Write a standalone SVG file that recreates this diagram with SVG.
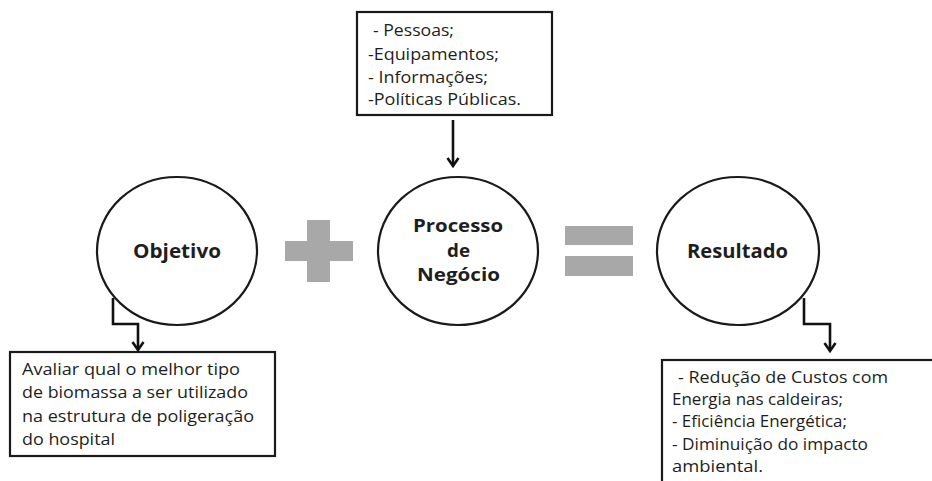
<svg xmlns="http://www.w3.org/2000/svg" width="932" height="481" viewBox="0 0 932 481">
  <defs>
    <marker id="arrow" markerWidth="14" markerHeight="14" refX="11" refY="7" orient="auto" markerUnits="userSpaceOnUse" viewBox="0 0 14 14">
      <polyline points="3,1.5 11,7 3,12.5" fill="none" stroke="#111" stroke-width="2.6" stroke-linejoin="miter"/>
    </marker>
  </defs>
  <style>
    .bg { fill: #ffffff; }
    .box { fill: #ffffff; stroke: #1a1a1a; stroke-width: 2.2; }
    .circle { fill: #ffffff; stroke: #1a1a1a; stroke-width: 2.2; }
    .conn { fill: none; stroke: #111; stroke-width: 2.6; }
    .op { fill: #a8a8a8; }
    .label { font-family: "Open Sans", "Liberation Sans", sans-serif; font-weight: bold; font-size: 20px; fill: #1e1e1e; }
    .label.sm { font-size: 18.5px; }
    .txt { font-family: "Open Sans", "Liberation Sans", sans-serif; font-size: 17px; fill: #1e1e1e; }
  </style>

  <rect class="bg" x="0" y="0" width="932" height="481"/>

  <!-- input box above the process -->
  <g id="inputs">
    <rect class="box" x="357" y="12" width="195" height="103"/>
    <text class="txt" x="373" y="36" textLength="81" lengthAdjust="spacingAndGlyphs">- Pessoas;</text>
    <text class="txt" x="368" y="60" textLength="131" lengthAdjust="spacingAndGlyphs">-Equipamentos;</text>
    <text class="txt" x="368" y="83" textLength="120" lengthAdjust="spacingAndGlyphs">- Informações;</text>
    <text class="txt" x="368" y="105" textLength="153" lengthAdjust="spacingAndGlyphs">-Políticas Públicas.</text>
  </g>

  <g id="objetivo">
    <ellipse class="circle" cx="177" cy="251" rx="80" ry="74"/>
    <text class="label" x="133" y="258" textLength="88" lengthAdjust="spacingAndGlyphs">Objetivo</text>
  </g>

  <g id="plus">
    <rect class="op" x="285" y="241" width="68" height="20"/>
    <rect class="op" x="307" y="220" width="23" height="62"/>
  </g>

  <g id="processo">
    <ellipse class="circle" cx="458" cy="251" rx="80" ry="74"/>
    <text class="label sm" x="413" y="232" textLength="90" lengthAdjust="spacingAndGlyphs">Processo</text>
    <text class="label sm" x="447" y="257" textLength="23" lengthAdjust="spacingAndGlyphs">de</text>
    <text class="label sm" x="417" y="281" textLength="83" lengthAdjust="spacingAndGlyphs">Negócio</text>
  </g>

  <g id="equals">
    <rect class="op" x="565" y="226" width="68" height="19"/>
    <rect class="op" x="565" y="256" width="68" height="20"/>
  </g>

  <g id="resultado">
    <ellipse class="circle" cx="738" cy="251" rx="81" ry="74"/>
    <text class="label" x="687" y="258" textLength="101" lengthAdjust="spacingAndGlyphs">Resultado</text>
  </g>

  <g id="objetivo-desc">
    <rect class="box" x="10" y="352" width="265" height="104"/>
    <text class="txt" x="22" y="375" textLength="218" lengthAdjust="spacingAndGlyphs">Avaliar qual o melhor tipo</text>
    <text class="txt" x="22" y="398" textLength="226" lengthAdjust="spacingAndGlyphs">de biomassa a ser utilizado</text>
    <text class="txt" x="22" y="422" textLength="232" lengthAdjust="spacingAndGlyphs">na estrutura de poligeração</text>
    <text class="txt" x="22" y="445" textLength="93" lengthAdjust="spacingAndGlyphs">do hospital</text>
  </g>

  <g id="resultado-desc">
    <rect class="box" x="662" y="360" width="290" height="140"/>
    <text class="txt" x="678" y="383" textLength="210" lengthAdjust="spacingAndGlyphs">- Redução de Custos com</text>
    <text class="txt" x="672" y="405" textLength="171" lengthAdjust="spacingAndGlyphs">Energia nas caldeiras;</text>
    <text class="txt" x="672" y="427" textLength="175" lengthAdjust="spacingAndGlyphs">- Eficiência Energética;</text>
    <text class="txt" x="672" y="450" textLength="196" lengthAdjust="spacingAndGlyphs">- Diminuição do impacto</text>
    <text class="txt" x="672" y="472" textLength="91" lengthAdjust="spacingAndGlyphs">ambiental.</text>
  </g>

  <g id="connectors">
    <path class="conn" d="M453,120 V166" marker-end="url(#arrow)"/>
    <path class="conn" d="M113,298 V324 H138 V350" marker-end="url(#arrow)"/>
    <path class="conn" d="M804,298 V324 H830 V351" marker-end="url(#arrow)"/>
  </g>
</svg>
